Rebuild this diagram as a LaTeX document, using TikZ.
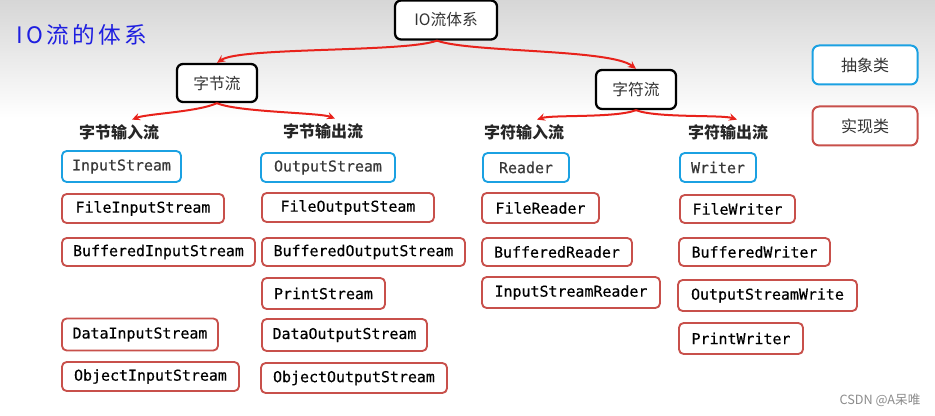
\documentclass[tikz,border=0pt]{standalone}
\usepackage{fontspec}
\setmainfont{DejaVu Sans}
\setmonofont{DejaVu Sans Mono}
\newfontfamily\monoheavy[FakeBold=0.4]{DejaVu Sans Mono}
\newfontfamily\cjk{Noto Sans CJK SC}
\newfontfamily\cjktitle[LetterSpace=15]{Noto Sans CJK SC}
\usetikzlibrary{arrows.meta}
\definecolor{absblue}{HTML}{1BA1E2}
\definecolor{implred}{HTML}{C8504B}
\definecolor{arrred}{HTML}{E8221B}
\definecolor{titleblue}{HTML}{1F1FE0}
\def\px{0.75pt}
\tikzset{
  sz/.style 2 args={minimum width=#1*\px, minimum height=#2*\px},
  cls/.style={rectangle, rounded corners=3.5pt, fill=white, line width=1.4pt, inner sep=0pt,
    font=\monoheavy\fontsize{11.2}{13}\selectfont},
  absbox/.style={cls, draw=absblue, text=black!78},
  implbox/.style={cls, draw=implred, text=black},
  catbox/.style={rectangle, rounded corners=4.5pt, fill=white, draw=black, line width=1.7pt,
    inner sep=0pt, text=black!80, font=\cjk\fontsize{11.8}{13}\selectfont},
  legbox/.style={rectangle, rounded corners=5pt, fill=white, line width=1.5pt, inner sep=0pt,
    text=black!80, font=\cjk\fontsize{12}{13}\selectfont},
  head/.style={font=\cjk\bfseries\fontsize{12}{13}\selectfont, text=black!85},
  arr/.style={draw=arrred, line width=1.5pt, -{Stealth[length=6pt,width=5.5pt]}},
}
\begin{document}
\begin{tikzpicture}[x=0.75pt, y=-0.75pt]
\useasboundingbox (0,0) rectangle (935,416);
\fill[white] (0,0) rectangle (935,416);
\shade[top color=black!16, middle color=black!6, bottom color=white] (0,0) rectangle (935,118);

% title
\node[text=titleblue, font=\cjktitle\fontsize{17}{18}\selectfont] (title) at (82,35) {IO流的体系};

% category boxes
\node[catbox, sz={102}{39}] (io) at (446,20) {IO流体系};
\node[catbox, sz={80}{38}] (zj) at (217,83) {字节流};
\node[catbox, sz={80}{39}] (zf) at (636,89.5) {字符流};

% legend
\node[legbox, draw=absblue, sz={105}{39}] (legabs) at (865,65) {抽象类};
\node[legbox, draw=implred, sz={105}{39}] (legimpl) at (865,126) {实现类};

% headings
\node[head] (h1) at (119,132) {字节输入流};
\node[head] (h2) at (323,131) {字节输出流};
\node[head] (h3) at (524,132) {字符输入流};
\node[head] (h4) at (728,132) {字符输出流};

% arrows
\draw[arr] ([xshift=-9*\px]io.south) .. controls +(-32,12) and +(23,-16) .. (zj.north);
\draw[arr] ([xshift=-9*\px]io.south) .. controls +(33,12) and +(-26,-20) .. (zf.north);
\draw[arr] (zj.south) .. controls +(-20,9) and +(15,-6) .. ([xshift=13*\px]h1.north);
\draw[arr] (zj.south) .. controls +(20,9) and +(-15,-6) .. ([xshift=12*\px]h2.north);
\draw[arr] (zf.south) .. controls +(-20,8) and +(15,-5) .. ([xshift=13*\px]h3.north);
\draw[arr] (zf.south) .. controls +(20,8) and +(-15,-5) .. ([xshift=9*\px]h4.north);

% byte input
\node[absbox, sz={119}{31}] (in0) at (121.5,166.5) {InputStream};
\node[implbox, sz={162}{29}] (in1) at (143,208.5) {FileInputStream};
\node[implbox, sz={193}{28}] (in2) at (158.5,252) {BufferedInputStream};
\node[implbox, sz={156}{32}] (in3) at (140,334.5) {DataInputStream};
\node[implbox, sz={177}{29}] (in4) at (150.5,376.5) {ObjectInputStream};

% byte output
\node[absbox, sz={134}{29}] (out0) at (328,167.5) {OutputStream};
\node[implbox, sz={172}{29}] (out1) at (348,207.5) {FileOutputSteam};
\node[implbox, sz={203}{28}] (out2) at (363.5,252) {BufferedOutputStream};
\node[implbox, sz={123}{31}] (out3) at (323.5,293.5) {PrintStream};
\node[implbox, sz={165}{32}] (out4) at (344.5,335) {DataOutputStream};
\node[implbox, sz={186}{30}] (out5) at (354,378) {ObjectOutputStream};

% char input
\node[absbox, sz={86}{29}] (r0) at (526,167.5) {Reader};
\node[implbox, sz={117}{30}] (r1) at (540.5,208) {FileReader};
\node[implbox, sz={150}{28}] (r2) at (557,252) {BufferedReader};
\node[implbox, sz={178}{31}] (r3) at (571,292.5) {InputStreamReader};

% char output
\node[absbox, sz={76}{29}] (w0) at (718,167.5) {Writer};
\node[implbox, sz={115}{28}] (w1) at (737.5,209) {FileWriter};
\node[implbox, sz={151}{28}] (w2) at (754.5,252) {BufferedWriter};
\node[implbox, sz={179}{31}] (w3) at (767.5,295.5) {OutputStreamWrite};
\node[implbox, sz={124}{31}] (w4) at (741,338.5) {PrintWriter};

% watermark
\node[text=black!45, font=\cjk\fontsize{9.5}{11}\selectfont] (wm) at (880,400) {CSDN @A呆唯};
\end{tikzpicture}
\end{document}
